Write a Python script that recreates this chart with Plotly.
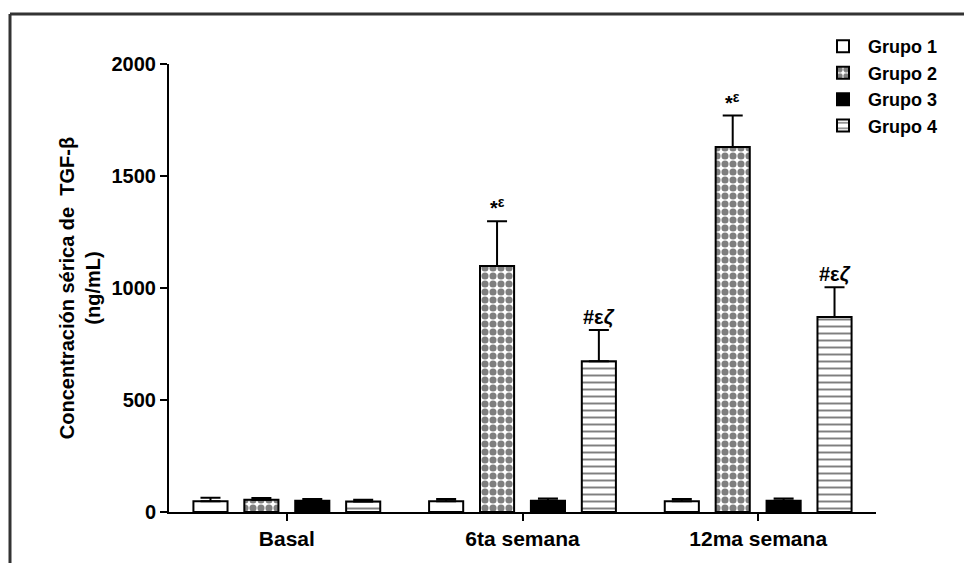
import plotly.graph_objects as go

categories = ["Basal", "6ta semana", "12ma semana"]
groups = ["Grupo 1", "Grupo 2", "Grupo 3", "Grupo 4"]
values = {
    "Grupo 1": [48, 48, 48],
    "Grupo 2": [55, 1098, 1630],
    "Grupo 3": [50, 50, 50],
    "Grupo 4": [47, 673, 870],
}
errors = {
    "Grupo 1": [16, 10, 10],
    "Grupo 2": [8, 200, 140],
    "Grupo 3": [8, 10, 10],
    "Grupo 4": [8, 140, 133],
}
annots = [("Grupo 2", 1, "*<sup>ε</sup>"), ("Grupo 4", 1, "#ε<i>ζ</i>"),
          ("Grupo 2", 2, "*<sup>ε</sup>"), ("Grupo 4", 2, "#ε<i>ζ</i>")]
y_ticks = [0, 500, 1000, 1500, 2000]

FONT = "Liberation Sans, Arial, sans-serif"
styles = {
    "Grupo 1": dict(color="white", pattern=dict(shape="")),
    "Grupo 2": dict(color="white", pattern=dict(shape=".", fgcolor="black", bgcolor="white",
                                                 size=8, solidity=0.62, fillmode="overlay")),
    "Grupo 3": dict(color="black", pattern=dict(shape="")),
    "Grupo 4": dict(color="white", pattern=dict(shape="-", fgcolor="black", bgcolor="white",
                                                 size=7, solidity=0.28, fillmode="overlay")),
}

fig = go.Figure()
for g in groups:
    st = styles[g]
    fig.add_trace(go.Bar(
        name=g, x=categories, y=values[g],
        marker=dict(color=st["color"], pattern=st["pattern"],
                    line=dict(color="black", width=2)),
        error_y=dict(type="data", symmetric=False, array=errors[g],
                     arrayminus=[0] * len(categories), color="black",
                     thickness=2, width=10),
    ))

bargap = 0.136
slot = (1 - bargap) / len(groups)
for g, ci, txt in annots:
    gi = groups.index(g)
    xo = ci - (1 - bargap) / 2 + slot * (gi + 0.5)
    top = values[g][ci] + errors[g][ci]
    fig.add_annotation(x=xo, y=top, xref="x", yref="y", text=txt, showarrow=False,
                       yanchor="bottom", yshift=0,
                       font=dict(family=FONT, size=20, color="black", weight="bold"))

# outer frame (top and left)
x0p = (10 - 169) / 707
y0p = (512 - 14) / 448
fig.add_shape(type="line", xref="paper", yref="paper", x0=x0p, x1=(964 - 169) / 707,
              y0=y0p, y1=y0p, line=dict(color="#333333", width=3))
fig.add_shape(type="line", xref="paper", yref="paper", x0=x0p, x1=x0p,
              y0=y0p, y1=(512 - 570) / 448, line=dict(color="#333333", width=3))

fig.update_layout(
    width=964, height=563,
    margin=dict(l=169, r=88, t=64, b=51),
    paper_bgcolor="white", plot_bgcolor="white",
    barmode="group", bargap=bargap, bargroupgap=0.33,
    font=dict(family=FONT, color="black"),
    showlegend=True,
    legend=dict(x=0.918, y=1.08, xanchor="left", yanchor="top",
                font=dict(family=FONT, size=18, color="black", weight="bold"),
                bgcolor="rgba(0,0,0,0)", tracegroupgap=0, itemwidth=40),
    xaxis=dict(type="category", range=[-0.5, 2.5], showline=True, linecolor="black",
               linewidth=2, ticks="outside", ticklen=7, tickwidth=2, tickcolor="black",
               tickfont=dict(family=FONT, size=21, color="black", weight="bold"),
               showgrid=False, zeroline=False, fixedrange=True),
    yaxis=dict(range=[0, 2000], tickvals=y_ticks, showline=True, linecolor="black",
               linewidth=2, ticks="outside", ticklen=7, tickwidth=2, tickcolor="black",
               tickfont=dict(family=FONT, size=20, color="black", weight="bold"),
               showgrid=False, zeroline=False,
               title=dict(text="Concentración sérica de  TGF-β<br>(ng/mL)",
                          font=dict(family=FONT, size=20, color="black", weight="bold"),
                          standoff=6)),
)

fig.write_html("out.html")
